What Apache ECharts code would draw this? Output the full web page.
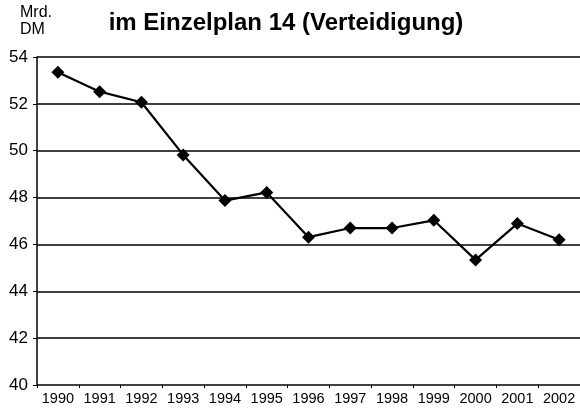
<!DOCTYPE html>
<html>
<head>
<meta charset="utf-8">
<script src="https://cdn.jsdelivr.net/npm/echarts@6/dist/echarts.min.js"></script>
<style>
  html, body { margin: 0; padding: 0; background: #fff; }
  #chart { width: 580px; height: 412px; }
</style>
</head>
<body>
<div id="chart"></div>
<script>
var years = ['1990', '1991', '1992', '1993', '1994', '1995', '1996', '1997', '1998', '1999', '2000', '2001', '2002'];
var ausgaben = [53.35, 52.52, 52.07, 49.82, 47.87, 48.22, 46.31, 46.70, 46.70, 47.03, 45.34, 46.89, 46.20];
var yTicks = [40, 42, 44, 46, 48, 50, 52, 54];

var font = 'Liberation Sans, Arial, sans-serif';

var option = {
  animation: false,
  backgroundColor: '#fff',
  title: [{
    text: 'im Einzelplan 14 (Verteidigung)',
    left: 286,
    top: 11,
    padding: 0,
    textAlign: 'center',
    textStyle: { fontFamily: font, fontSize: 24, fontWeight: 'bold', color: '#000' }
  }, {
    text: 'Mrd.\nDM',
    left: 20,
    top: 4,
    padding: 0,
    textStyle: { fontFamily: font, fontSize: 16, fontWeight: 'normal', color: '#000', lineHeight: 17 }
  }],
  grid: {
    left: 37,
    right: 0,
    top: 57,
    bottom: 27
  },
  xAxis: {
    type: 'category',
    data: years,
    boundaryGap: true,
    axisLine: { show: false },
    axisTick: { show: true, inside: false, length: 3, lineStyle: { color: '#000', width: 1 } },
    axisLabel: { fontFamily: font, fontSize: 14.5, color: '#000', margin: 6, interval: 0 }
  },
  yAxis: {
    type: 'value',
    min: yTicks[0],
    max: yTicks[yTicks.length - 1],
    interval: 2,
    axisLine: { show: true, lineStyle: { color: '#000', width: 1.5 } },
    axisTick: { show: true, inside: false, length: 4, lineStyle: { color: '#000', width: 1 } },
    axisLabel: { fontFamily: font, fontSize: 17, color: '#000', margin: 9 },
    splitLine: { show: true, lineStyle: { color: '#000', width: 1.5 } }
  },
  series: [{
    type: 'line',
    data: ausgaben,
    symbol: 'diamond',
    symbolSize: 13,
    lineStyle: { color: '#000', width: 2.2 },
    itemStyle: { color: '#000' }
  }]
};

var chart = echarts.init(document.getElementById('chart'));
chart.setOption(option);
</script>
</body>
</html>
